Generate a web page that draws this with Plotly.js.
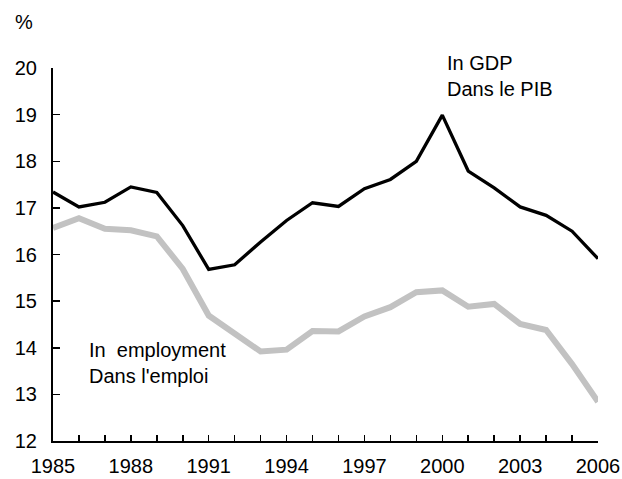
<!DOCTYPE html>
<html>
<head>
<meta charset="utf-8">
<script src="https://cdn.plot.ly/plotly-3.0.1.min.js"></script>
<style>
  html, body { margin: 0; padding: 0; background: #fff; }
  #chart { width: 622px; height: 479px; }
</style>
</head>
<body>
<div id="chart"></div>
<script>
// years on the x axis
var years = [1985, 1986, 1987, 1988, 1989, 1990, 1991, 1992, 1993, 1994, 1995,
  1996, 1997, 1998, 1999, 2000, 2001, 2002, 2003, 2004, 2005, 2006]

// share in GDP (%)
var inGdp = [17.34, 17.02, 17.12, 17.45, 17.33, 16.62, 15.68, 15.78, 16.27, 16.73, 17.11,
  17.03, 17.41, 17.61, 18.0, 18.99, 17.79, 17.43, 17.02, 16.84, 16.50, 15.91]

// share in employment (%)
var inEmployment = [16.57, 16.78, 16.55, 16.52, 16.39, 15.69, 14.69, 14.29, 13.92, 13.96, 14.36,
  14.35, 14.67, 14.87, 15.19, 15.23, 14.88, 14.94, 14.51, 14.38, 13.65, 12.84]

var gdpLabel = 'In GDP<br>Dans le PIB'
var empLabel = 'In\u00a0 employment<br>Dans l\'emploi'

var font = 'Liberation Sans, Arial, Helvetica, sans-serif'

var data = [
  {
    type: 'scatter',
    mode: 'lines',
    x: years,
    y: inEmployment,
    line: { color: '#c2c2c2', width: 6 },
    hoverinfo: 'skip'
  },
  {
    type: 'scatter',
    mode: 'lines',
    x: years,
    y: inGdp,
    line: { color: '#000000', width: 3.3 },
    hoverinfo: 'skip'
  }
]

var layout = {
  width: 622,
  height: 479,
  margin: { l: 53, r: 24, t: 68, b: 38 },
  paper_bgcolor: '#ffffff',
  plot_bgcolor: '#ffffff',
  showlegend: false,
  font: { family: font, size: 20, color: '#000' },
  xaxis: {
    range: [1985, 2006],
    tick0: 1985,
    dtick: 3,
    ticks: 'inside',
    ticklen: 6,
    tickwidth: 1.5,
    tickcolor: '#000',
    minor: { dtick: 1, ticks: 'inside', ticklen: 6, tickwidth: 1.5, tickcolor: '#000' },
    showline: true,
    linecolor: '#000',
    linewidth: 2,
    showgrid: false,
    zeroline: false,
    ticklabelstandoff: 6,
    tickfont: { family: font, size: 20, color: '#000' }
  },
  yaxis: {
    range: [12, 20],
    dtick: 1,
    ticks: 'inside',
    ticklen: 7,
    tickwidth: 1.5,
    tickcolor: '#000',
    showline: true,
    linecolor: '#000',
    linewidth: 2,
    showgrid: false,
    zeroline: false,
    ticklabelstandoff: 10,
    tickfont: { family: font, size: 20, color: '#000' }
  },
  annotations: [
    {
      text: '%',
      xref: 'paper', yref: 'paper',
      x: -0.073, y: 1.124,
      xanchor: 'left', yanchor: 'middle',
      showarrow: false,
      font: { family: font, size: 20, color: '#000' }
    },
    {
      text: gdpLabel,
      xref: 'x', yref: 'y',
      x: 2000.1, y: 19.82,
      xanchor: 'left', yanchor: 'middle',
      align: 'left',
      showarrow: false,
      font: { family: font, size: 20, color: '#000' }
    },
    {
      text: empLabel,
      xref: 'x', yref: 'y',
      x: 1986.3, y: 13.67,
      xanchor: 'left', yanchor: 'middle',
      align: 'left',
      showarrow: false,
      font: { family: font, size: 20, color: '#000' }
    }
  ]
}

Plotly.newPlot('chart', data, layout, { displayModeBar: false, staticPlot: true })
</script>
</body>
</html>
